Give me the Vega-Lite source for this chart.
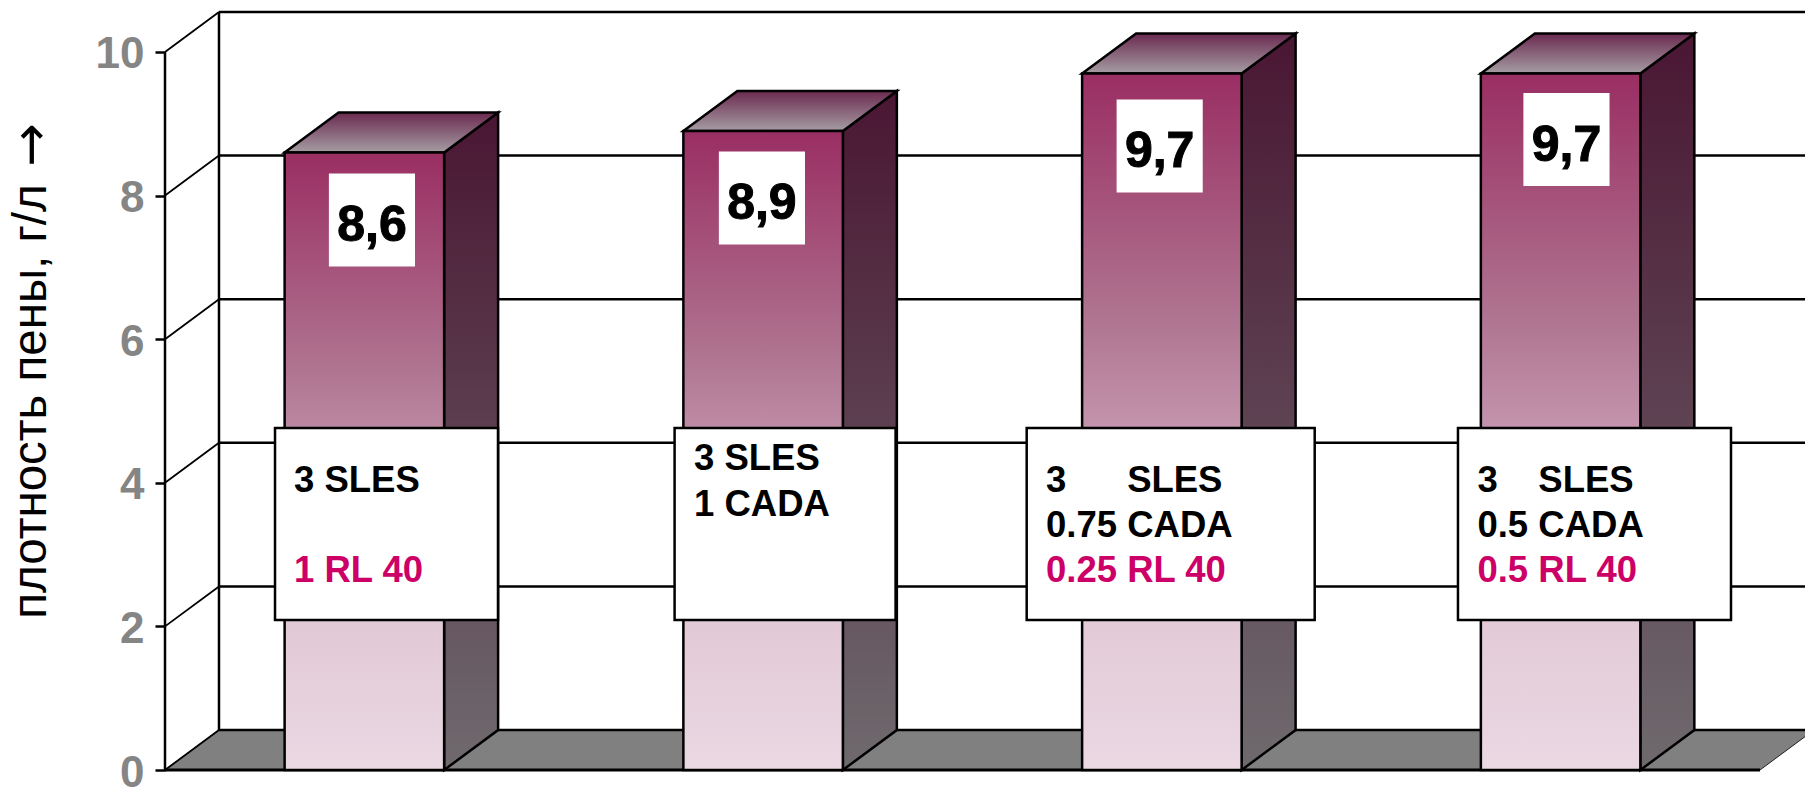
{
  "$schema": "https://vega.github.io/schema/vega-lite/v6.json",
  "width": 1640,
  "height": 770,
  "autosize": {"type": "none"},
  "padding": {"left": 165, "top": 0, "right": 0, "bottom": 18},
  "background": "white",
  "params": [
    {"name": "depthX", "value": 0.1354},
    {"name": "depthY", "value": 0.557},
    {"name": "halfBar", "value": 0.2}
  ],
  "config": {"view": {"stroke": null}},
  "resolve": {"axis": {"y": "independent"}},
  "datasets": {
    "bars": [
      {"sample": "3 SLES + 1 RL 40", "n": 1, "value": 8.6, "labelX": 0.519, "labelY": 7.66},
      {"sample": "3 SLES + 1 CADA", "n": 2, "value": 8.9, "labelX": 1.497, "labelY": 7.966},
      {"sample": "3 SLES + 0.75 CADA + 0.25 RL 40", "n": 3, "value": 9.7, "labelX": 2.4945, "labelY": 8.69},
      {"sample": "3 SLES + 0.5 CADA + 0.5 RL 40", "n": 4, "value": 9.7, "labelX": 3.5147, "labelY": 8.78}
    ],
    "levels": [{"v": 0}, {"v": 2}, {"v": 4}, {"v": 6}, {"v": 8}, {"v": 10}],
    "edges": [{"t": 0}, {"t": 1}],
    "walls": [{"from": 0, "to": 10, "origin": 0, "floorEnd": 4, "wallEnd": 4.1129}],
    "arrow": [{"glyph": "→", "x": -0.3335, "y": 8.705}],
    "recipes": [
      {"sample": "3 SLES + 1 RL 40", "from": 0.2759, "to": 0.8351},
      {"sample": "3 SLES + 1 CADA", "from": 1.278, "to": 1.8322},
      {"sample": "3 SLES + 0.75 CADA + 0.25 RL 40", "from": 2.161, "to": 2.8833},
      {"sample": "3 SLES + 0.5 CADA + 0.5 RL 40", "from": 3.2426, "to": 3.9273}
    ],
    "recipeLines": [
      {"line": "3 SLES", "part": "base", "x": 0.3235, "y": 4.049},
      {"line": "1 RL 40", "part": "rl", "x": 0.3235, "y": 2.799},
      {"line": "3 SLES", "part": "base", "x": 1.3266, "y": 4.359},
      {"line": "1 CADA", "part": "base", "x": 1.3266, "y": 3.719},
      {"line": "3\u00a0\u00a0\u00a0\u00a0\u00a0\u00a0SLES", "part": "base", "x": 2.2094, "y": 4.049},
      {"line": "0.75 CADA", "part": "base", "x": 2.2094, "y": 3.426},
      {"line": "0.25 RL 40", "part": "rl", "x": 2.2094, "y": 2.799},
      {"line": "3\u00a0\u00a0\u00a0\u00a0SLES", "part": "base", "x": 3.2914, "y": 4.049},
      {"line": "0.5 CADA", "part": "base", "x": 3.2914, "y": 3.426},
      {"line": "0.5 RL 40", "part": "rl", "x": 3.2914, "y": 2.799}
    ]
  },
  "layer": [
    {
      "description": "Grey floor of the 3D box",
      "data": {"name": "edges"},
      "transform": [
        {"calculate": "datum.t * depthX", "as": "x0"},
        {"calculate": "4 + datum.t * depthX", "as": "x1"},
        {"calculate": "datum.t * depthY", "as": "yy"}
      ],
      "mark": {"type": "area", "orient": "horizontal", "fill": "#808080", "stroke": "#222222", "strokeWidth": 1},
      "encoding": {
        "x": {"field": "x0", "type": "quantitative", "scale": {"domain": [0, 4.1129]}, "axis": null},
        "x2": {"field": "x1"},
        "y": {"field": "yy", "type": "quantitative", "scale": {"domain": [0, 10.724]}, "axis": null}
      }
    },
    {
      "description": "Horizontal gridlines on the back wall",
      "data": {"name": "levels"},
      "transform": [
        {"calculate": "datum.v + depthY", "as": "back"},
        {"calculate": "depthX", "as": "wallX"},
        {"calculate": "4.1129", "as": "wallEnd"}
      ],
      "mark": {"type": "rule", "color": "#000000", "strokeWidth": 2.5},
      "encoding": {
        "x": {"field": "wallX", "type": "quantitative", "scale": {"domain": [0, 4.1129]}, "axis": null},
        "x2": {"field": "wallEnd"},
        "y": {"field": "back", "type": "quantitative", "scale": {"domain": [0, 10.724]}, "axis": null}
      }
    },
    {
      "description": "Slanted gridlines on the side wall, carrying the value axis",
      "data": {"name": "levels"},
      "transform": [
        {"calculate": "datum.v + depthY", "as": "back"},
        {"calculate": "depthX", "as": "wallX"},
        {"calculate": "0", "as": "front"}
      ],
      "mark": {"type": "rule", "color": "#000000", "strokeWidth": 1.8},
      "encoding": {
        "x": {"field": "front", "type": "quantitative", "scale": {"domain": [0, 4.1129]}, "axis": null},
        "x2": {"field": "wallX"},
        "y": {"field": "v", "type": "quantitative", "scale": {"domain": [0, 10.724]},
          "axis": {
            "values": [0, 2, 4, 6, 8, 10], "format": "d", "domain": false, "grid": false,
            "ticks": true, "tickSize": 10, "tickWidth": 2.5, "tickColor": "#000000",
            "labelFont": "Liberation Sans", "labelFontWeight": "bold", "labelFontSize": 44,
            "labelColor": "#858585", "labelPadding": 11, "labelOffset": 3, "labelOverlap": false, "labelBound": false,
            "title": "плотность пены, г/л", "titleFont": "Liberation Sans", "titleFontWeight": "normal",
            "titleFontSize": 47.5, "titleColor": "#000000", "titleAngle": -90, "titleAlign": "center",
            "titleBaseline": "alphabetic", "titleX": -120, "titleY": 401
          }
        },
        "y2": {"field": "back"}
      }
    },
    {
      "description": "Arrow closing the axis title, pointing towards higher density",
      "data": {"name": "arrow"},
      "mark": {"type": "text", "font": "DejaVu Sans", "fontSize": 52, "angle": 270, "align": "center", "baseline": "middle", "color": "#000000"},
      "encoding": {
        "x": {"field": "x", "type": "quantitative", "scale": {"domain": [0, 4.1129]}, "axis": null},
        "y": {"field": "y", "type": "quantitative", "scale": {"domain": [0, 10.724]}, "axis": null},
        "text": {"field": "glyph", "type": "nominal"}
      }
    },
    {
      "description": "Value axis line at the front edge",
      "data": {"name": "walls"},
      "mark": {"type": "rule", "color": "#000000", "strokeWidth": 2.5},
      "encoding": {
        "x": {"field": "origin", "type": "quantitative", "scale": {"domain": [0, 4.1129]}, "axis": null},
        "y": {"field": "from", "type": "quantitative", "scale": {"domain": [0, 10.724]}, "axis": null},
        "y2": {"field": "to"}
      }
    },
    {
      "description": "Corner edge where the side wall meets the back wall",
      "data": {"name": "walls"},
      "transform": [
        {"calculate": "datum.from + depthY", "as": "y0"},
        {"calculate": "datum.to + depthY", "as": "y1"},
        {"calculate": "depthX", "as": "wallX"}
      ],
      "mark": {"type": "rule", "color": "#000000", "strokeWidth": 2.5},
      "encoding": {
        "x": {"field": "wallX", "type": "quantitative", "scale": {"domain": [0, 4.1129]}, "axis": null},
        "y": {"field": "y0", "type": "quantitative", "scale": {"domain": [0, 10.724]}, "axis": null},
        "y2": {"field": "y1"}
      }
    },
    {
      "description": "Front edge of the floor",
      "data": {"name": "walls"},
      "mark": {"type": "rule", "color": "#000000", "strokeWidth": 3},
      "encoding": {
        "x": {"field": "origin", "type": "quantitative", "scale": {"domain": [0, 4.1129]}, "axis": null},
        "x2": {"field": "floorEnd"},
        "y": {"field": "from", "type": "quantitative", "scale": {"domain": [0, 10.724]}, "axis": null}
      }
    },
    {
      "description": "Right-hand face of each column",
      "data": {"name": "bars"},
      "transform": [
        {"calculate": "[0, 1]", "as": "t"},
        {"flatten": ["t"]},
        {"calculate": "datum.n - 0.5 + halfBar + datum.t * depthX", "as": "sx"},
        {"calculate": "datum.t * depthY", "as": "sLow"},
        {"calculate": "datum.value + datum.t * depthY", "as": "sHigh"}
      ],
      "mark": {
        "type": "area", "orient": "vertical", "stroke": "#000000", "strokeWidth": 2.5,
        "fill": {"x1": 0, "y1": 0, "x2": 0, "y2": 1, "gradient": "linear",
          "stops": [{"offset": 0, "color": "#4A1633"}, {"offset": 1, "color": "#6F6A6E"}]}
      },
      "encoding": {
        "detail": {"field": "n", "type": "nominal"},
        "x": {"field": "sx", "type": "quantitative", "scale": {"domain": [0, 4.1129]}, "axis": null},
        "y": {"field": "sHigh", "type": "quantitative", "scale": {"domain": [0, 10.724]}, "axis": null},
        "y2": {"field": "sLow"}
      }
    },
    {
      "description": "Top face of each column",
      "data": {"name": "bars"},
      "transform": [
        {"calculate": "[0, 1]", "as": "t"},
        {"flatten": ["t"]},
        {"calculate": "datum.n - 0.5 - halfBar + datum.t * depthX", "as": "tx0"},
        {"calculate": "datum.n - 0.5 + halfBar + datum.t * depthX", "as": "tx1"},
        {"calculate": "datum.value + datum.t * depthY", "as": "ty"}
      ],
      "mark": {
        "type": "area", "orient": "horizontal", "stroke": "#000000", "strokeWidth": 2.5,
        "fill": {"x1": 0, "y1": 0, "x2": 0, "y2": 1, "gradient": "linear",
          "stops": [{"offset": 0, "color": "#6B2A50"}, {"offset": 1, "color": "#A59DA3"}]}
      },
      "encoding": {
        "detail": {"field": "n", "type": "nominal"},
        "x": {"field": "tx0", "type": "quantitative", "scale": {"domain": [0, 4.1129]}, "axis": null},
        "x2": {"field": "tx1"},
        "y": {"field": "ty", "type": "quantitative", "scale": {"domain": [0, 10.724]}, "axis": null}
      }
    },
    {
      "description": "Front face of each column",
      "data": {"name": "bars"},
      "transform": [
        {"calculate": "datum.n - 0.5 - halfBar", "as": "fx0"},
        {"calculate": "datum.n - 0.5 + halfBar", "as": "fx1"},
        {"calculate": "0", "as": "base"}
      ],
      "mark": {
        "type": "rect", "stroke": "#000000", "strokeWidth": 2.5,
        "fill": {"x1": 0, "y1": 0, "x2": 0, "y2": 1, "gradient": "linear",
          "stops": [
            {"offset": 0, "color": "#9A2E63"},
            {"offset": 0.35, "color": "#AF7490"},
            {"offset": 0.45, "color": "#BC88A2"},
            {"offset": 0.76, "color": "#E1C9D5"},
            {"offset": 1, "color": "#EAD8E3"}
          ]}
      },
      "encoding": {
        "x": {"field": "fx0", "type": "quantitative", "scale": {"domain": [0, 4.1129]}, "axis": null},
        "x2": {"field": "fx1"},
        "y": {"field": "value", "type": "quantitative", "scale": {"domain": [0, 10.724]}, "axis": null},
        "y2": {"field": "base"}
      }
    },
    {
      "description": "White plate behind each value",
      "data": {"name": "bars"},
      "transform": [
        {"calculate": "datum.labelX - 0.108", "as": "px0"},
        {"calculate": "datum.labelX + 0.108", "as": "px1"},
        {"calculate": "datum.labelY - 0.648", "as": "py0"},
        {"calculate": "datum.labelY + 0.648", "as": "py1"}
      ],
      "mark": {"type": "rect", "fill": "#FFFFFF"},
      "encoding": {
        "x": {"field": "px0", "type": "quantitative", "scale": {"domain": [0, 4.1129]}, "axis": null},
        "x2": {"field": "px1"},
        "y": {"field": "py0", "type": "quantitative", "scale": {"domain": [0, 10.724]}, "axis": null},
        "y2": {"field": "py1"}
      }
    },
    {
      "description": "Value of each column with a decimal comma",
      "data": {"name": "bars"},
      "transform": [
        {"calculate": "replace(format(datum.value, '.1f'), '.', ',')", "as": "shown"}
      ],
      "mark": {"type": "text", "font": "Liberation Sans", "fontWeight": "bold", "fontSize": 50, "color": "#000000", "stroke": "#000000", "strokeWidth": 1, "align": "center", "baseline": "middle", "dy": 6},
      "encoding": {
        "x": {"field": "labelX", "type": "quantitative", "scale": {"domain": [0, 4.1129]}, "axis": null},
        "y": {"field": "labelY", "type": "quantitative", "scale": {"domain": [0, 10.724]}, "axis": null},
        "text": {"field": "shown", "type": "nominal"}
      }
    },
    {
      "description": "Boxes listing each foam recipe",
      "data": {"name": "recipes"},
      "transform": [
        {"calculate": "4.763", "as": "boxTop"},
        {"calculate": "2.089", "as": "boxBottom"}
      ],
      "mark": {"type": "rect", "fill": "#FFFFFF", "stroke": "#000000", "strokeWidth": 2.5},
      "encoding": {
        "x": {"field": "from", "type": "quantitative", "scale": {"domain": [0, 4.1129]}, "axis": null},
        "x2": {"field": "to"},
        "y": {"field": "boxTop", "type": "quantitative", "scale": {"domain": [0, 10.724]}, "axis": null},
        "y2": {"field": "boxBottom"}
      }
    },
    {
      "description": "Recipe lines, with RL 40 picked out in magenta",
      "data": {"name": "recipeLines"},
      "mark": {"type": "text", "font": "Liberation Sans", "fontWeight": "bold", "fontSize": 36.5, "align": "left", "baseline": "middle", "dy": 2},
      "encoding": {
        "x": {"field": "x", "type": "quantitative", "scale": {"domain": [0, 4.1129]}, "axis": null},
        "y": {"field": "y", "type": "quantitative", "scale": {"domain": [0, 10.724]}, "axis": null},
        "text": {"field": "line", "type": "nominal"},
        "color": {"field": "part", "type": "nominal", "legend": null,
          "scale": {"domain": ["base", "rl"], "range": ["#000000", "#CC0066"]}}
      }
    }
  ]
}
